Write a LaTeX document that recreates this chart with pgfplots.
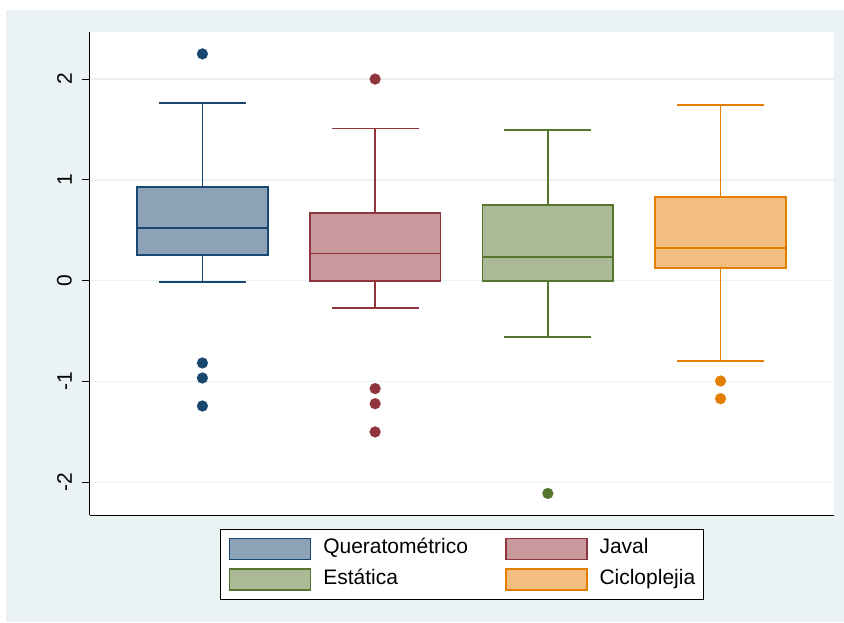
\documentclass[border=0pt]{standalone}
\usepackage{pgfplots}
\pgfplotsset{compat=1.18}
\usepgfplotslibrary{statistics}
\usetikzlibrary{backgrounds}
\usepackage{fontspec}
\setmainfont{Liberation Sans}
\definecolor{bg}{RGB}{234,242,243}
\definecolor{qline}{RGB}{26,71,111}
\definecolor{qfill}{RGB}{140,163,183}
\definecolor{jline}{RGB}{144,53,59}
\definecolor{jfill}{RGB}{200,154,157}
\definecolor{eline}{RGB}{85,117,47}
\definecolor{efill}{RGB}{170,186,151}
\definecolor{cline}{RGB}{227,126,0}
\definecolor{cfill}{RGB}{241,190,128}
\begin{document}
\begin{tikzpicture}[font=\fontsize{21pt}{25pt}\selectfont]
\begin{axis}[
  scale only axis, width=744pt, height=483pt,
  xmin=0.349, xmax=4.657, ymin=-2.324, ymax=2.467,
  axis lines*=left,
  axis line style={black, line width=1pt},
  axis background/.style={fill=white},
  xtick=\empty,
  ytick={-2,-1,0,1,2}, yticklabels={-2,-1,0,1,2},
  tick align=outside, major tick length=8pt,
  tick style={black, line width=1pt},
  yticklabel style={xshift=-10pt, rotate=90, anchor=south, inner sep=0pt},
  ymajorgrids, grid style={bg, line width=1.5pt},
  boxplot/draw direction=y,
  boxplot/box extend=0.757, boxplot/whisker extend=0.504,
  boxplot/every box/.style={line width=1.8pt},
  boxplot/every whisker/.style={line width=1.8pt},
  boxplot/every median/.style={line width=1.8pt},
  legend columns=2,
  legend style={at={(axis description cs:0.5,0)}, anchor=north, yshift=-14pt,
    draw=black, line width=0.8pt, fill=white,
    inner xsep=8pt, inner ysep=8.25pt,
    cells={anchor=west},
    nodes={inner sep=0pt, text height=15pt, text depth=5pt},
    row sep=8pt,
    /tikz/every odd column/.append style={column sep=12pt},
    /tikz/every even column/.append style={column sep=37pt},
  },
  legend image code/.code={\draw[#1, line width=1.5pt] (0pt,-10.5pt) rectangle (81pt,10.5pt);},
]
\addplot[boxplot prepared={draw position=1, lower whisker=-0.013, lower quartile=0.255,
  median=0.523, upper quartile=0.93, upper whisker=1.763},
  draw=qline, fill=qfill, line width=1.8pt, mark=*, mark size=5.5pt,
  mark options={solid, fill=qline, draw=qline, line width=0.1pt}, forget plot]
  table[row sep=\\, y index=0] {y\\ 2.25\\ -0.816\\ -0.965\\ -1.243\\};
\addplot[boxplot prepared={draw position=2, lower whisker=-0.27, lower quartile=0,
  median=0.27, upper quartile=0.67, upper whisker=1.51},
  draw=jline, fill=jfill, line width=1.8pt, mark=*, mark size=5.5pt,
  mark options={solid, fill=jline, draw=jline, line width=0.1pt}, forget plot]
  table[row sep=\\, y index=0] {y\\ 2.0\\ -1.07\\ -1.22\\ -1.50\\};
\addplot[boxplot prepared={draw position=3, lower whisker=-0.56, lower quartile=0,
  median=0.232, upper quartile=0.748, upper whisker=1.495},
  draw=eline, fill=efill, line width=1.8pt, mark=*, mark size=5.5pt,
  mark options={solid, fill=eline, draw=eline, line width=0.1pt}, forget plot]
  table[row sep=\\, y index=0] {y\\ -2.11\\};
\addplot[boxplot prepared={draw position=4, lower whisker=-0.797, lower quartile=0.129,
  median=0.324, upper quartile=0.827, upper whisker=1.746},
  draw=cline, fill=cfill, line width=1.8pt, mark=*, mark size=5.5pt,
  mark options={solid, fill=cline, draw=cline, line width=0.1pt}, forget plot]
  table[row sep=\\, y index=0] {y\\ -0.995\\ -1.17\\};
\addlegendimage{draw=qline, fill=qfill}
\addlegendentry{Queratométrico}
\addlegendimage{draw=jline, fill=jfill}
\addlegendentry{Javal}
\addlegendimage{draw=eline, fill=efill}
\addlegendentry{Estática}
\addlegendimage{draw=cline, fill=cfill}
\addlegendentry{Cicloplejia}
\end{axis}
\begin{scope}[on background layer]
  \fill[white] (-90pt,-107pt) rectangle (754pt,515pt);
  \fill[bg] (-84pt,-107pt) rectangle (754pt,505pt);
\end{scope}
\pgfresetboundingbox
\useasboundingbox (-90pt,-107pt) rectangle (754pt,515pt);
\end{tikzpicture}
\end{document}
